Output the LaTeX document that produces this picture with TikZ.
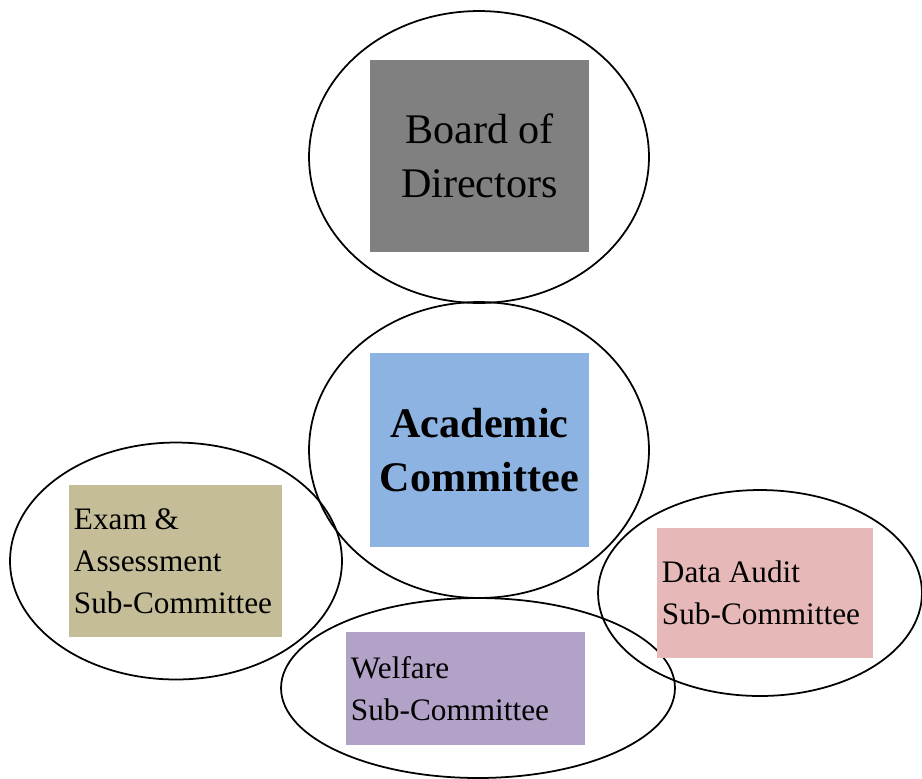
\documentclass[tikz,border=0pt]{standalone}
\usepackage{fontspec}
\setmainfont{Liberation Serif}
\usetikzlibrary{shapes.geometric}
\definecolor{boardgray}{HTML}{808080}
\definecolor{acadblue}{HTML}{8DB3E2}
\definecolor{examtan}{HTML}{C4BD97}
\definecolor{auditpink}{HTML}{E6B9B8}
\definecolor{welfarelilac}{HTML}{B2A2C7}
\tikzset{
  ring/.style={draw=black,line width=1pt,ellipse,inner sep=0pt},
  bigbox/.style={inner sep=0pt,align=center,font=\fontsize{24}{31}\selectfont},
  subbox/.style={inner xsep=2.8pt,inner ysep=0pt,align=flush left,font=\fontsize{17.8}{23.8}\selectfont}
}
\begin{document}
\begin{tikzpicture}[x=0.02cm,y=-0.02cm]
        \useasboundingbox (0,0) rectangle (922,778);
        % Draw the five rings
        \node[ring,minimum width=6.8cm,minimum height=5.84cm] (boardring) at (479,157) {};
        \node[ring,minimum width=6.8cm,minimum height=5.92cm] (acadring) at (479,450) {};
        \node[ring,minimum width=6.64cm,minimum height=4.74cm] (examring) at (176,561) {};
        \node[ring,minimum width=7.88cm,minimum height=3.6cm] (welfarering) at (478,688) {};
        \node[ring,minimum width=6.48cm,minimum height=4.12cm] (auditring) at (760,593) {};
        % Draw the coloured boxes
        \node[bigbox,fill=boardgray,minimum width=4.38cm,minimum height=3.84cm] (board) at (479.5,156) {Board of\\Directors};
        \node[bigbox,fill=acadblue,minimum width=4.38cm,minimum height=3.88cm] (acad) at (479.5,450) {\textbf{Academic}\\\textbf{Committee}};
        \node[subbox,fill=examtan,text width=4.26cm-5.6pt,minimum height=3.04cm] (exam) at (175.5,561) {Exam \&\\Assessment\\Sub-Committee};
        \node[subbox,fill=auditpink,text width=4.32cm-5.6pt,minimum height=2.6cm] (audit) at (765,593) {Data Audit\\Sub-Committee};
        \node[subbox,fill=welfarelilac,text width=4.78cm-5.6pt,minimum height=2.26cm] (welfare) at (465.5,688.5) {Welfare\\Sub-Committee};
\end{tikzpicture}
\end{document}
